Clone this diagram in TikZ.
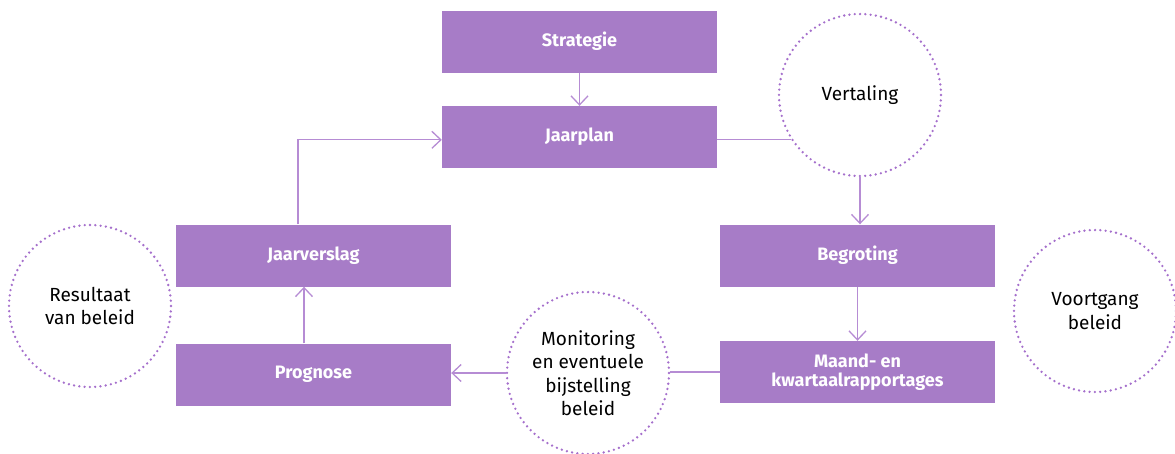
\documentclass[tikz,border=0pt]{standalone}
\usepackage{fontspec}
\setmainfont{Fira Sans}
\usetikzlibrary{arrows.meta}
\definecolor{paars}{RGB}{167,124,199}
\definecolor{lijnpaars}{RGB}{182,140,212}
\definecolor{stippaars}{RGB}{165,112,204}
\begin{document}
\begin{tikzpicture}[
    x=1pt, y=-1pt,
    blok/.style={rectangle, fill=paars, text=white, minimum width=275pt, minimum height=62pt, align=center, inner sep=0pt, font=\fontsize{18}{19}\selectfont\bfseries},
    cirkel/.style={circle, draw=stippaars, line width=2.6pt, dash pattern=on 0pt off 5.3pt, line cap=round, minimum size=162pt, align=center, inner sep=0pt, font=\fontsize{19}{23.5}\selectfont},
    lijn/.style={draw=lijnpaars, line width=1.3pt},
    pijl/.style={lijn, -{Straight Barb[length=9pt, width=17pt, line width=1.3pt]}}
]
\useasboundingbox (0,0) rectangle (1175,453);

% Blokken
\node[blok] (strategie) at (579.5,41.5) {Strategie};
\node[blok] (jaarplan) at (579.5,137) {Jaarplan};
\node[blok] (jaarverslag) at (313.5,255.5) {Jaarverslag};
\node[blok] (prognose) at (313.5,374.5) {Prognose};
\node[blok] (begroting) at (857.5,255.5) {Begroting};
\node[blok] (maand) at (857.5,372) {Maand- en\\kwartaalrapportages};

% Cirkels
\node[cirkel] (vertaling) at (860,95) {Vertaling};
\node[cirkel] (resultaat) at (90,306) {Resultaat\\van beleid};
\node[cirkel] (monitoring) at (588,373) {Monitoring\\en eventuele\\bijstelling\\beleid};
\node[cirkel] (voortgang) at (1095,311) {Voortgang\\beleid};

% Verbindingen
\draw[pijl] (strategie) -- (jaarplan);
\draw[lijn] (jaarplan.east |- vertaling.213) -- (vertaling.213);
\draw[pijl] (vertaling.south) -- (vertaling.south |- begroting.north);
\draw[pijl] (begroting) -- (maand);
\draw[lijn] (maand.west) -- (maand.west -| monitoring.east);
\draw[pijl] (monitoring.west) -- (prognose.east |- monitoring.west);
\draw[pijl] ([xshift=-9.5pt]prognose.north) -- ([xshift=-9.5pt]jaarverslag.south);
\draw[pijl] ([xshift=-15.5pt]jaarverslag.north) |- (jaarplan.west |- vertaling.213);

\end{tikzpicture}
\end{document}
